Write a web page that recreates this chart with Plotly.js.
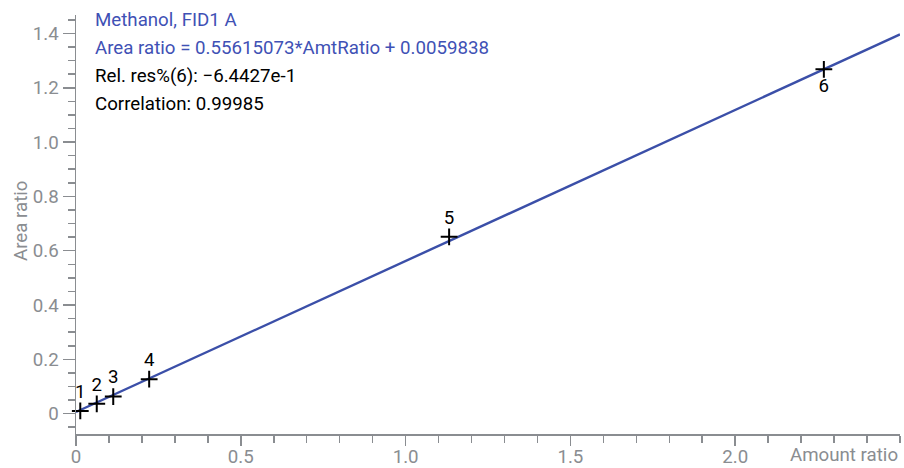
<!DOCTYPE html>
<html>
<head>
<meta charset="utf-8">
<script src="https://cdn.plot.ly/plotly-3.0.1.min.js"></script>
<style>html,body{margin:0;padding:0;background:#fff;}#chart{width:904px;height:468px;}</style>
</head>
<body>
<div id="chart"></div>
<script>
// Calibration points (Amount ratio vs Area ratio)
const pointLabels = ["1", "2", "3", "4", "5", "6"];
const amountRatio = [0.013, 0.063, 0.113, 0.222, 1.132, 2.269];
const areaRatio = [0.010, 0.036, 0.063, 0.127, 0.651, 1.268];
const labelPositions = ["top center", "top center", "top center", "top center", "top center", "bottom center"];

// Regression line
const slope = 0.55615073;
const intercept = 0.0059838;
const xRange = [0, 2.5];
const yRange = [-0.075, 1.468];

const xTickVals = [0, 0.5, 1.0, 1.5, 2.0];
const xTickText = ["0", "0.5", "1.0", "1.5", "2.0"];
const yTickVals = [0, 0.2, 0.4, 0.6, 0.8, 1.0, 1.2, 1.4];
const yTickText = ["0", "0.2", "0.4", "0.6", "0.8", "1.0", "1.2", "1.4"];

const infoLines = [
  {text: "Methanol, FID1 A", color: "#3f51b5"},
  {text: "Area ratio = 0.55615073*AmtRatio + 0.0059838", color: "#3f51b5"},
  {text: "Rel. res%(6): \u22126.4427e-1", color: "#000000"},
  {text: "Correlation: 0.99985", color: "#000000"}
];

const lineX = [xRange[0], xRange[1]];
const lineY = lineX.map(v => slope * v + intercept);

const FS = 18.7;
const traces = [
  {
    x: lineX, y: lineY, mode: "lines", type: "scatter",
    line: {color: "#3b4fa8", width: 2.4}, hoverinfo: "skip"
  },
  {
    x: amountRatio, y: areaRatio, mode: "markers+text", type: "scatter",
    text: pointLabels, textposition: labelPositions,
    textfont: {family: "Roboto", size: FS, color: "#000"},
    marker: {symbol: "cross-thin", size: 12, line: {color: "#000", width: 2}},
    cliponaxis: false
  }
];

const gray = "#8a8d91";
const plotTop = 15, plotH = 419, plotL = 76, plotW = 824;
const annotations = infoLines.map((l, i) => ({
  xref: "paper", yref: "paper", x: (93 - plotL) / plotW, y: 1 - (20 + i * 28 - plotTop) / plotH,
  xanchor: "left", yanchor: "middle", showarrow: false, text: l.text,
  font: {family: "Roboto", size: FS, color: l.color}
}));
annotations.push({
  xref: "paper", yref: "paper", x: 1.0, y: -(468 - 434) / plotH, xanchor: "right", yanchor: "bottom",
  showarrow: false, text: "Amount ratio", font: {family: "Roboto", size: FS, color: gray}
});
annotations.push({
  xref: "paper", yref: "paper", x: -(76 - 21) / plotW, y: 1 - (221 - plotTop) / plotH, xanchor: "center", yanchor: "middle",
  textangle: -90, showarrow: false, text: "Area ratio", font: {family: "Roboto", size: FS, color: gray}
});

const layout = {
  width: 904, height: 468,
  margin: {l: 76, r: 4, t: 15, b: 34},
  paper_bgcolor: "#fff", plot_bgcolor: "#fff",
  showlegend: false,
  font: {family: "Roboto", size: FS, color: gray},
  xaxis: {
    range: xRange, tickmode: "array", tickvals: xTickVals, ticktext: xTickText,
    showgrid: false, zeroline: false, showline: true, linecolor: gray, linewidth: 1.5,
    ticks: "outside", ticklen: 10, tickwidth: 1.5, tickcolor: gray, ticklabelstandoff: -5,
    tickfont: {family: "Roboto", size: FS, color: gray},
    minor: {tickmode: "linear", tick0: 0, dtick: 0.1, ticks: "outside", ticklen: 7, tickwidth: 1.5, tickcolor: gray}
  },
  yaxis: {
    range: yRange, tickmode: "array", tickvals: yTickVals, ticktext: yTickText,
    showgrid: false, zeroline: false, showline: true, linecolor: gray, linewidth: 1.5,
    ticks: "outside", ticklen: 12, tickwidth: 1.5, tickcolor: gray,
    tickfont: {family: "Roboto", size: FS, color: gray},
    minor: {tickmode: "linear", tick0: 0, dtick: 0.05, ticks: "outside", ticklen: 7, tickwidth: 1.5, tickcolor: gray}
  },
  annotations: annotations
};

Plotly.newPlot("chart", traces, layout, {displayModeBar: false, staticPlot: true});
</script>
</body>
</html>
